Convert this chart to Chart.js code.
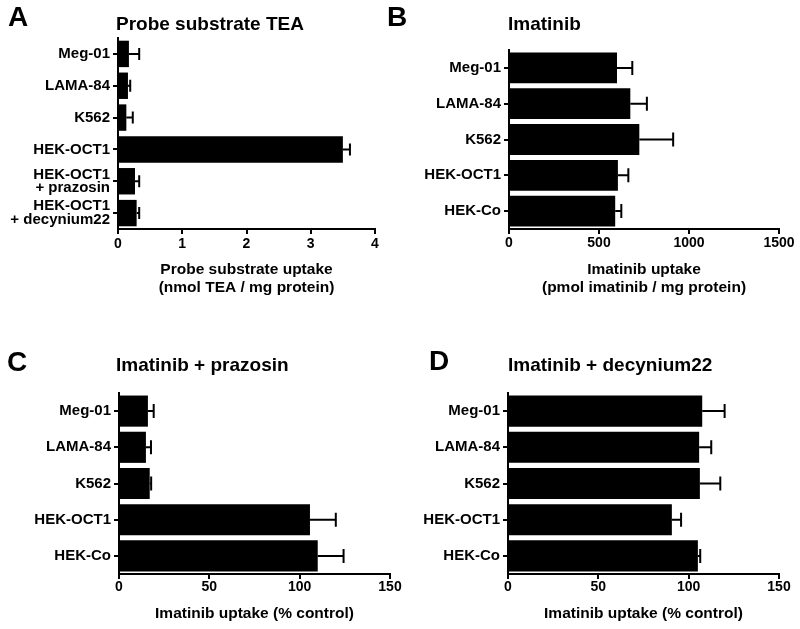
<!DOCTYPE html>
<html>
<head>
<meta charset="utf-8">
<script src="https://cdn.jsdelivr.net/npm/chart.js@4.4.1/dist/chart.umd.min.js"></script>
<style>
  html, body { margin: 0; padding: 0; background: #fff; }
  #wrap { position: relative; width: 800px; height: 629px; overflow: hidden; }
  canvas { position: absolute; left: 0; top: 0; }
  .txt { position: absolute; font-family: "Liberation Sans", Arial, Helvetica, sans-serif; font-weight: bold; color: #000; white-space: nowrap; }
  .letter { font-size: 28px; line-height: 28px; }
  .title { font-size: 19px; line-height: 19px; }
</style>
</head>
<body>
<div id="wrap">
  <canvas id="cA" width="800" height="629"></canvas>
  <canvas id="cB" width="800" height="629"></canvas>
  <canvas id="cC" width="800" height="629"></canvas>
  <canvas id="cD" width="800" height="629"></canvas>
  <div class="txt letter" style="left:8px;top:3px;">A</div>
  <div class="txt letter" style="left:387px;top:3px;">B</div>
  <div class="txt letter" style="left:7px;top:348px;">C</div>
  <div class="txt letter" style="left:429px;top:347px;">D</div>
  <div class="txt title" style="left:116px;top:14px;">Probe substrate TEA</div>
  <div class="txt title" style="left:508px;top:14px;">Imatinib</div>
  <div class="txt title" style="left:116px;top:355px;">Imatinib + prazosin</div>
  <div class="txt title" style="left:508px;top:355px;">Imatinib + decynium22</div>
</div>
<script>
// ---------- data ----------
const labelsA = ["Meg-01", "LAMA-84", "K562", "HEK-OCT1", ["HEK-OCT1", "+ prazosin"], ["HEK-OCT1", "+ decynium22"]];
const meanA = [0.17, 0.155, 0.13, 3.50, 0.265, 0.29];
const errA  = [0.16, 0.035, 0.10, 0.11, 0.065, 0.04];
const titleA = ["Probe substrate uptake", "(nmol TEA / mg protein)"];

const labelsBCD = ["Meg-01", "LAMA-84", "K562", "HEK-OCT1", "HEK-Co"];
const meanB = [600, 674, 724, 605, 590];
const errB  = [85, 92, 188, 58, 34];
const titleB = ["Imatinib uptake", "(pmol imatinib / mg protein)"];

const meanC = [16, 14.9, 17, 105.7, 110];
const errC  = [3.2, 2.8, 0.8, 14.3, 14.3];
const titleC = "Imatinib uptake (% control)";

const meanD = [107.5, 105.8, 106.2, 90.7, 105.1];
const errD  = [12.4, 6.7, 11.3, 5.1, 1.3];
const titleD = "Imatinib uptake (% control)";

// ---------- drawing ----------
const FONT = '"Liberation Sans", Arial, Helvetica, sans-serif';

const errorBars = {
  id: 'errorBars',
  afterDatasetsDraw(chart, args, opts) {
    const ctx = chart.ctx;
    const ds = chart.data.datasets[0];
    const meta = chart.getDatasetMeta(0);
    const xs = chart.scales.x;
    ctx.save();
    ctx.strokeStyle = '#000';
    ctx.lineWidth = 2;
    meta.data.forEach((bar, i) => {
      const y = bar.y;
      const x0 = xs.getPixelForValue(ds.data[i]);
      const x1 = xs.getPixelForValue(ds.data[i] + ds.errors[i]);
      const h = opts.cap / 2;
      ctx.beginPath();
      ctx.moveTo(x0, y); ctx.lineTo(x1, y);
      ctx.moveTo(x1, y - h); ctx.lineTo(x1, y + h);
      ctx.stroke();
    });
    ctx.restore();
  }
};

function makeChart(id, p) {
  return new Chart(document.getElementById(id), {
    type: 'bar',
    data: {
      labels: p.labels,
      datasets: [{
        data: p.mean,
        errors: p.err,
        backgroundColor: '#000',
        borderWidth: 0,
        barPercentage: p.barPct,
        categoryPercentage: 1
      }]
    },
    options: {
      indexAxis: 'y',
      responsive: false,
      animation: false,
      devicePixelRatio: 1,
      layout: { padding: { left: p.padL, right: p.padR, top: p.padT, bottom: p.padB } },
      plugins: {
        legend: { display: false },
        tooltip: { enabled: false },
        errorBars: { cap: p.cap }
      },
      scales: {
        x: {
          type: 'linear',
          min: 0, max: p.max,
          ticks: { stepSize: p.step, color: '#000', padding: p.tickPad, callback: v => String(v),
                   font: { family: FONT, size: 14, weight: 'bold' } },
          grid: { drawOnChartArea: false, drawTicks: true, tickLength: 5, color: '#000', lineWidth: 2 },
          border: { display: true, color: '#000', width: 2 },
          title: { display: true, text: p.xTitle, color: '#000', padding: { top: 0, bottom: 2 }, font: { family: FONT, size: 15.5, weight: 'bold', lineHeight: 1.16 } },
          afterFit(s) { s.height = p.xH; }
        },
        y: {
          ticks: { color: '#000', padding: 3, font: { family: FONT, size: 15, weight: 'bold', lineHeight: 0.9 } },
          grid: { offset: false, drawOnChartArea: false, drawTicks: true, tickLength: 5, color: '#000', lineWidth: 2 },
          border: { display: true, color: '#000', width: 2 },
          afterFit(s) { s.width = p.yW; }
        }
      }
    },
    plugins: [errorBars]
  });
}

makeChart('cA', { labels: labelsA, mean: meanA, err: errA, max: 4, step: 1, xTitle: titleA, barPct: 0.83, cap: 12,
  padL: 0, yW: 118, padR: 425, padT: 38, xH: 70, padB: 330, tickPad: 2 });
makeChart('cB', { labels: labelsBCD, mean: meanB, err: errB, max: 1500, step: 500, xTitle: titleB, barPct: 0.86, cap: 14,
  padL: 400, yW: 109, padR: 21, padT: 50, xH: 70, padB: 330, tickPad: 1 });
makeChart('cC', { labels: labelsBCD, mean: meanC, err: errC, max: 150, step: 50, xTitle: titleC, barPct: 0.86, cap: 14,
  padL: 0, yW: 119, padR: 410, padT: 393, xH: 51, padB: 4, tickPad: 0 });
makeChart('cD', { labels: labelsBCD, mean: meanD, err: errD, max: 150, step: 50, xTitle: titleD, barPct: 0.86, cap: 14,
  padL: 400, yW: 108, padR: 21, padT: 393, xH: 51, padB: 4, tickPad: 0 });
</script>
</body>
</html>
